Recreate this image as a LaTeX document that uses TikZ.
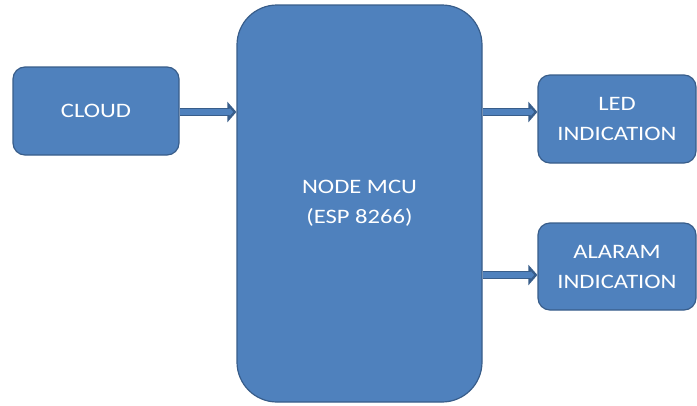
\documentclass[tikz,border=0pt]{standalone}
\usepackage{fontspec}
\setmainfont{Carlito}
\usetikzlibrary{arrows.meta}
\definecolor{boxfill}{HTML}{4F81BD}
\definecolor{boxedge}{HTML}{385D8A}
\tikzset{
  blk/.style={draw=boxedge, line width=1.2pt, fill=boxfill, text=white,
    align=center, inner sep=0pt, rounded corners=#1,
    font=\fontsize{20.5}{30}\selectfont},
  blk/.default=12pt,
  barrow/.style={draw=boxedge, line width=8pt,
    -{Triangle[length=9pt,width=20pt,fill=boxfill]}},
  barrowin/.style={draw=boxfill, line width=5.5pt, shorten >=6pt}
}
\newcommand{\wtxt}[1]{\scalebox{1.2}[1]{#1}}
\begin{document}
\begin{tikzpicture}[x=1pt,y=-1pt]
\useasboundingbox (0,0) rectangle (697,405);
\node[blk, minimum width=166pt, minimum height=88pt] (cloud) at (96,111) {\wtxt{CLOUD}};
\node[blk=40pt, minimum width=245pt, minimum height=397pt] (mcu) at (359.5,203.5) {\wtxt{NODE MCU}\\\wtxt{(ESP 8266)}};
\node[blk, minimum width=158pt, minimum height=88pt] (led) at (617,119) {\wtxt{LED}\\\wtxt{INDICATION}};
\node[blk, minimum width=158pt, minimum height=87pt] (alarm) at (617,266.5) {\wtxt{ALARAM}\\\wtxt{INDICATION}};
\coordinate (c1) at (cloud.east |- 0,112);
\coordinate (m1) at (mcu.west |- 0,112);
\coordinate (m2) at (mcu.east |- 0,112);
\coordinate (l1) at (led.west |- 0,112);
\coordinate (m3) at (mcu.east |- 0,275);
\coordinate (a1) at (alarm.west |- 0,275);
\draw[barrow] (c1) -- (m1);
\draw[barrowin] (c1) -- (m1);
\draw[barrow] (m2) -- (l1);
\draw[barrowin] (m2) -- (l1);
\draw[barrow] (m3) -- (a1);
\draw[barrowin] (m3) -- (a1);
\end{tikzpicture}
\end{document}
